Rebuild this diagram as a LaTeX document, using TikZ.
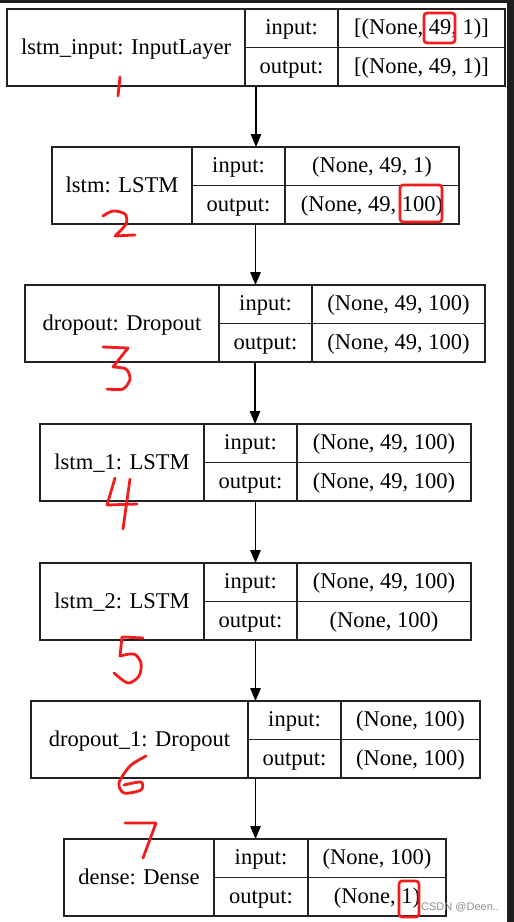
\documentclass[tikz,border=0pt]{standalone}
\usepackage{fontspec}
\setmainfont{Liberation Serif}
\newfontfamily\wmfont{Liberation Sans}
\usetikzlibrary{arrows.meta}
\definecolor{frame}{HTML}{1E1E1E}
\definecolor{ink}{HTML}{222222}
\definecolor{pen}{HTML}{F21C1C}
\definecolor{wm}{HTML}{8F8F8F}
\tikzset{
  rec/.style={draw=ink, line width=1.3pt, inner sep=0pt, outer sep=0pt, rectangle},
  rule/.style={draw=ink, line width=1.3pt},
  celltxt/.style={inner sep=0pt, anchor=base, font=\fontsize{22.5}{27}\selectfont, text=black},
  flow/.style={draw=black, line width=1.3pt, -{Triangle[length=13pt,width=10.5pt]}},
  hand/.style={draw=pen, line width=2.8pt, line cap=round, line join=round},
  mark box/.style={draw=pen, line width=2.6pt, rounded corners=3pt},
}
\newcommand\layerbox[9]{%
  \pgfmathsetmacro\lw{#5-#2}%
  \pgfmathsetmacro\lcx{(#2+#5)/2}%
  \node[rec, minimum width=\lw pt, minimum height=77pt] (#1) at (\lcx, #6+38.5) {};
  \draw[rule] (#3,#6) -- (#3,#6+77);
  \draw[rule] (#4,#6) -- (#4,#6+77);
  \draw[rule] (#3,#6+38.5) -- (#5,#6+38.5);
  \node[celltxt] (#1-name) at ({(#2+#3)/2}, #6+45.5) {#7};
  \node[celltxt] (#1-inl) at ({(#3+#4)/2}, #6+25.5) {input:};
  \node[celltxt] (#1-outl) at ({(#3+#4)/2}, #6+64) {output:};
  \node[celltxt] (#1-inv) at ({(#4+#5)/2}, #6+25.5) {#8};
  \node[celltxt] (#1-outv) at ({(#4+#5)/2}, #6+64) {#9};
}
\begin{document}
\begin{tikzpicture}[x=1pt, y=-1pt]
\useasboundingbox (0,0) rectangle (514,922);
\fill[white] (0,0) rectangle (514,922);
\fill[frame] (0,0) rectangle (514,3);
\fill[frame] (507,0) rectangle (514,922);

\layerbox{b1}{7}{245}{338}{505}{9}{lstm\_input: InputLayer}{[(None, 49, 1)]}{[(None, 49, 1)]}
\layerbox{b2}{52}{192}{285}{459}{147}{lstm: LSTM}{(None, 49, 1)}{(None, 49, 100)}
\layerbox{b3}{25}{219}{312}{485}{285}{dropout: Dropout}{(None, 49, 100)}{(None, 49, 100)}
\layerbox{b4}{40}{204}{297}{471}{424}{lstm\_1: LSTM}{(None, 49, 100)}{(None, 49, 100)}
\layerbox{b5}{40}{204}{297}{471}{563}{lstm\_2: LSTM}{(None, 49, 100)}{(None, 100)}
\layerbox{b6}{31}{248}{341}{480}{701}{dropout\_1: Dropout}{(None, 100)}{(None, 100)}
\layerbox{b7}{64}{214}{308}{446}{839}{dense: Dense}{(None, 100)}{(None, 1)}

\draw[flow] (b1.south) -- (b1.south |- b2.north);
\draw[flow] (b2.south) -- (b2.south |- b3.north);
\draw[flow] (b3.south) -- (b3.south |- b4.north);
\draw[flow] (b4.south) -- (b4.south |- b5.north);
\draw[flow] (b5.south) -- (b5.south |- b6.north);
\draw[flow] (b6.south) -- (b6.south |- b7.north);

% red highlight boxes
\draw[mark box] (424,13) rectangle (455,43);
\draw[mark box] (400,185) rectangle (442,222);
\draw[mark box] (399,881) rectangle (419,917);

% handwritten numbers
\draw[hand] (120,77) -- (118,96);
\draw[hand] plot[smooth] coordinates {(103,216) (113,211) (125,214) (126,224) (115,236)} -- (135,235);
\draw[hand] (103,347) -- (128,348) -- (113,367);
\draw[hand] plot[smooth] coordinates {(113,367) (126,369) (130,379) (123,389) (107,389)};
\draw[hand] (115,478) -- (107,505) -- (137,504);
\draw[hand] (130,479) -- (123,529);
\draw[hand] (123,637) -- (143,638);
\draw[hand] (122,637) -- (120,656);
\draw[hand] plot[smooth] coordinates {(120,656) (134,654) (141,663) (139,676) (128,683) (114,673)};
\draw[hand] plot[smooth] coordinates {(146,756) (130,766) (119,783) (124,793) (141,790) (141,782) (124,785)};
\draw[hand] (125,823) -- (156,823) -- (143,858);

% watermark
\node[anchor=west, inner sep=0pt, text=wm, font=\wmfont\fontsize{11}{13}\selectfont] (wmk) at (421,907) {CSDN @Deen..};
\end{tikzpicture}
\end{document}
